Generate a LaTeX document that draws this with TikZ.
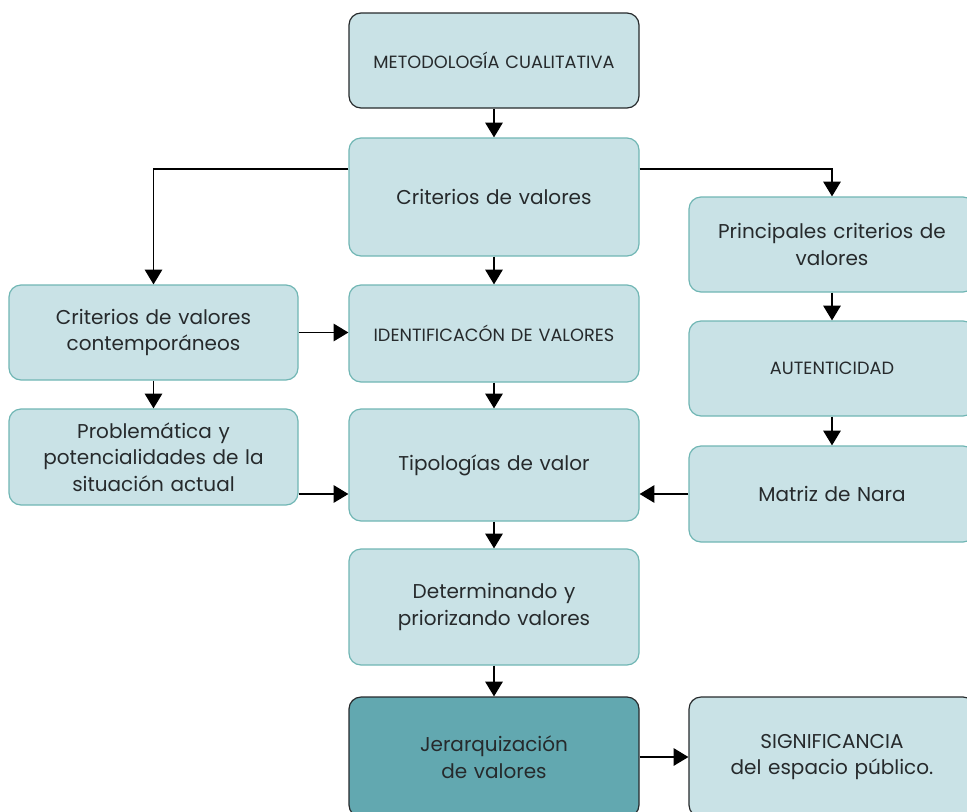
\documentclass[tikz,border=0pt]{standalone}
\usepackage{fontspec}
\setmainfont{Poppins}
\usetikzlibrary{arrows.meta}
\definecolor{boxfill}{RGB}{201,226,230}
\definecolor{boxline}{RGB}{112,182,180}
\definecolor{darkfill}{RGB}{98,168,176}
\definecolor{textgray}{RGB}{38,42,44}
\tikzstyle{box} = [rectangle, rounded corners=9pt, minimum width=217.5pt, line width=0.9pt, draw=boxline, fill=boxfill, text=textgray, text width=205pt, align=center, font=\fontsize{15}{20}\selectfont]
\tikzstyle{smallbox} = [box, font=\fontsize{13.3}{16}\selectfont]
\tikzstyle{blackbox} = [draw=textgray]
\tikzstyle{arrow} = [line width=1.1pt, -{Triangle[width=13pt,length=11pt]}]

\begin{document}
\begin{tikzpicture}[x=0.75pt,y=-0.75pt]
\useasboundingbox (0,0) rectangle (967,811);

% middle column
\node[smallbox,blackbox,minimum height=71.25pt] (meto) at (494,60.5) {METODOLOGÍA CUALITATIVA};
\node[box,minimum height=88.5pt] (crit) at (494,197) {Criterios de valores};
\node[smallbox,minimum height=72.75pt] (ident) at (494,333.5) {IDENTIFICACÓN DE VALORES};
\node[box,minimum height=84pt] (tipo) at (494,465) {Tipologías de valor};
\node[box,minimum height=87pt] (deter) at (494,607) {Determinando y\\priorizando valores};
\node[box,blackbox,fill=darkfill,minimum height=90pt] (jerar) at (494,757) {Jerarquización\\de valores\\[6pt]};

% left column
\node[box,minimum width=216.75pt,minimum height=71.25pt] (contemp) at (153.5,332.5) {Criterios de valores\\contemporáneos};
\node[box,minimum width=216.75pt,minimum height=72pt] (prob) at (153.5,457) {Problemática y\\potencialidades de la\\situación actual};

% right column
\node[box,minimum width=214.5pt,minimum height=71.25pt] (princ) at (832,244.5) {Principales criterios de\\valores};
\node[smallbox,minimum width=214.5pt,minimum height=71.25pt] (auten) at (832,368.5) {AUTENTICIDAD};
\node[box,minimum width=214.5pt,minimum height=72pt] (matriz) at (832,494) {Matriz de Nara};
\node[box,blackbox,minimum width=214.5pt,minimum height=90pt] (sig) at (832,757) {SIGNIFICANCIA\\del espacio público.\\[6pt]};

\draw[arrow] (meto) -- (crit);
\draw[arrow] ([yshift=21pt]crit.west) -| (contemp);
\draw[arrow] ([yshift=21pt]crit.east) -| (princ);
\draw[arrow] (crit) -- (ident);
\draw[arrow] (contemp.east) -- (contemp.east -| ident.west);
\draw[arrow] (contemp) -- (prob);
\draw[arrow] (ident) -- (tipo);
\draw[arrow] (prob.east |- matriz.west) -- (tipo.west |- matriz.west);
\draw[arrow] (matriz.west) -- (tipo.east |- matriz.west);
\draw[arrow] (princ) -- (auten);
\draw[arrow] (auten) -- (matriz);
\draw[arrow] (tipo) -- (deter);
\draw[arrow] (deter) -- (jerar);
\draw[arrow] (jerar) -- (sig);
\end{tikzpicture}
\end{document}
